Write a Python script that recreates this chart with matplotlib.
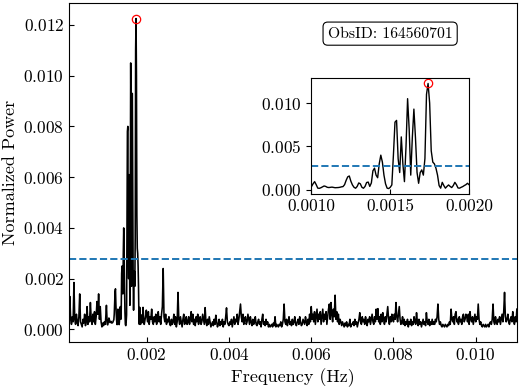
import numpy as np
import matplotlib
matplotlib.use("Agg")
import matplotlib.pyplot as plt

plt.rcParams['font.family'] = ['cmr10', 'DejaVu Serif']
plt.rcParams['axes.formatter.use_mathtext'] = True
plt.rcParams['mathtext.fontset'] = 'cm'

# power values below are in units of 1e-4 (normalized power)
# low band: 0.00011 .. 0.00099 Hz, step 2e-5
freq_lo = 0.00011 + 2e-5 * np.arange(45)
pow_lo = [6, 13, 4, 2, 5, 3, 18.5, 4, 2, 6,
          3, 1.5, 5, 14, 3, 2, 1, 4, 2.5, 6,
          1.5, 3, 9, 2, 5, 3, 10.6, 4, 2, 6,
          3, 7, 2, 5, 11, 6, 14, 4, 9, 3,
          1, 2.5, 1.5, 3, 2]

# signal band: 0.00100 .. 0.00199 Hz, step 1e-5
freq_mid = 0.001 + 1e-5 * np.arange(100)
pow_mid = [3.8, 7, 9.5, 6, 2, 1.8, 2.5, 3.5, 4.5, 4,
           3, 2.7, 3, 3.2, 2.8, 2.5, 2.6, 2.7, 3, 3.5,
           3.8, 6, 11, 15, 16, 10, 5.7, 3, 1.9, 4,
           8, 7, 3, 1.9, 4, 8.5, 9, 4, 8, 22,
           25, 17, 14, 30, 40, 32, 17, 7, 2, 1.5,
           3, 5.7, 40, 78, 80, 36, 20, 61, 30, 9.5,
           50, 105, 70, 17, 60, 93, 60, 20, 7.6, 20,
           23, 17, 36, 110, 122.5, 100, 45, 32, 30, 25,
           17, 5, 2, 8.7, 5, 2, 4, 5.7, 4, 2.7,
           5, 8.7, 6, 2.2, 2, 3, 3.8, 5, 6, 7.6]

# high band: 0.00200 .. 0.01100 Hz, step 2e-5
freq_hi = 0.002 + 2e-5 * np.arange(451)
pow_hi = [
    # 0.002 - 0.003
    6, 3, 7, 2, 5, 4, 8, 3, 2, 5,
    3, 6, 2, 4, 7, 3, 5, 2, 6, 9,
    24, 5, 3, 6, 2, 4, 3, 5, 2, 1.5,
    4, 2, 3, 6, 2, 5, 1, 3, 14.6, 4,
    2, 5, 3, 1, 4, 6, 2, 3, 5, 2,
    # 0.003 - 0.004
    3, 5, 2, 4, 7, 3, 6, 2, 4, 1.5,
    5, 3, 6, 2, 4, 5, 2, 3, 6, 4,
    2, 8.6, 3, 1.5, 4, 2, 5, 3, 1, 2,
    3, 1.5, 4, 2, 5.6, 3, 1, 2, 4, 1.5,
    3, 2, 4, 1, 3, 2, 5, 8.5, 3, 2,
    # 0.004 - 0.005
    1.5, 3, 2, 4, 1, 3, 5, 2, 4, 3,
    6, 2, 4, 7, 10, 5, 3, 6, 2, 4,
    5, 2, 3, 6, 4, 2, 5, 3, 1.5, 4,
    2, 3, 5, 2, 1.5, 3, 4, 2, 3, 1,
    4, 6, 2, 3, 1.5, 4, 2, 3, 1, 2,
    # 0.005 - 0.006
    1, 1.5, 2, 1, 2.5, 1.5, 5, 1, 2, 1.5,
    1, 2, 1.5, 3, 1, 2, 4, 10, 3, 2,
    4, 1.5, 3, 5, 2, 3, 1.5, 4, 2, 3,
    5, 2, 1.5, 3, 4, 2, 5, 3, 1.5, 2,
    4, 3, 2, 5, 3, 1.5, 4, 2, 6, 3,
    # 0.006 - 0.007
    9, 4, 6, 3, 7, 2, 5, 8, 3, 6,
    4, 7, 2, 5, 8, 3, 6, 4, 7, 2,
    5, 8, 10, 4, 10.6, 6, 3, 8, 5, 13.5,
    4, 7, 3, 6, 2, 4, 3, 1.5, 3, 2,
    1, 2.5, 1.5, 3, 1, 2, 1.5, 4, 1, 2,
    # 0.007 - 0.008
    2, 3, 1.5, 4, 2, 3, 1, 2.5, 4, 6.6,
    3, 2, 5, 3, 4, 2, 5, 3, 1.5, 4,
    3, 5, 2, 4, 6, 3, 2, 5, 3, 8,
    4, 8.2, 3, 5, 2, 6, 3, 6.6, 4, 2,
    5, 3, 6, 9, 4, 2, 5, 3, 6, 4,
    # 0.008 - 0.009
    3, 6, 4, 10.6, 5, 3, 6, 9, 4, 2,
    3, 5, 2, 4, 1.5, 3, 2, 4, 1, 3,
    2, 4, 1.5, 3, 2, 5, 3, 2, 6.6, 3,
    1.5, 4, 2, 3, 1, 2.5, 4, 2, 3, 1.5,
    6.6, 3, 2, 4, 1.5, 3, 2, 4, 2, 3,
    # 0.009 - 0.010
    2, 4, 3, 5, 10, 4, 2, 3, 1.5, 1,
    2, 1.5, 1, 2, 1.5, 1, 2, 1.5, 3, 2,
    8, 4, 3, 5, 2, 6, 7, 3, 4, 2,
    5, 3, 4, 2, 5, 6, 3, 4, 6, 5,
    3, 6, 2, 7, 4, 3, 5, 2, 4, 6,
    # 0.010 - 0.011
    3, 5, 4, 10, 4, 2, 3, 1.5, 1, 2,
    1.5, 1, 2, 1, 1.5, 2, 1, 2.5, 3, 2,
    4, 10, 3, 2, 5, 3, 2, 4, 3, 5,
    2, 4, 6, 3, 7, 14.6, 5, 3, 4, 6,
    3, 2, 4, 5, 3, 7, 4, 2, 5, 3, 8]

threshold = 0.00278
obsid = '164560701'

freq = np.concatenate([freq_lo, freq_mid, freq_hi])
power = np.concatenate([pow_lo, pow_mid, pow_hi]) * 1e-4
ipk = np.argmax(power)

fig = plt.figure(figsize=(5.2, 3.89), dpi=100)
ax = fig.add_axes([0.1327, 0.120, 0.8613, 0.872])
ax.plot(freq, power, color='black', lw=1.15)
ax.axhline(threshold, color='#1f77b4', ls='--', lw=1.4)
ax.plot(freq[ipk], power[ipk], 'o', mfc='none', mec='red', ms=6, mew=0.9)
ax.set_xlim(freq[0], freq[-1])
ax.set_xticks([0.002, 0.004, 0.006, 0.008, 0.010])
ax.set_yticks([0.0, 0.002, 0.004, 0.006, 0.008, 0.010, 0.012])
ax.tick_params(direction='in', labelsize=12.5)
ax.set_xlabel('Frequency (Hz)', fontsize=13)
ax.set_ylabel('Normalized Power', fontsize=13)
ax.text(0.717, 0.91, f'ObsID: {obsid}', transform=ax.transAxes, fontsize=11.3,
        ha='center', va='center',
        bbox=dict(boxstyle='round,pad=0.3', fc='white', ec='black', lw=0.8))

ins = fig.add_axes([0.599, 0.5005, 0.303, 0.2985])
ins.plot(freq, power, color='black', lw=1.0)
ins.axhline(threshold, color='#1f77b4', ls='--', lw=1.4)
ins.plot(freq[ipk], power[ipk], 'o', mfc='none', mec='red', ms=6, mew=0.9)
ins.set_xlim(0.001, 0.002)
ins.set_xticks([0.001, 0.0015, 0.002])
ins.set_xticklabels(['0.0010', '0.0015', '0.0020'])
ins.set_yticks([0.0, 0.005, 0.010])
ins.tick_params(labelsize=12.5)
ins.tick_params(axis='x', direction='in')

fig.savefig('out.png', dpi=100)
